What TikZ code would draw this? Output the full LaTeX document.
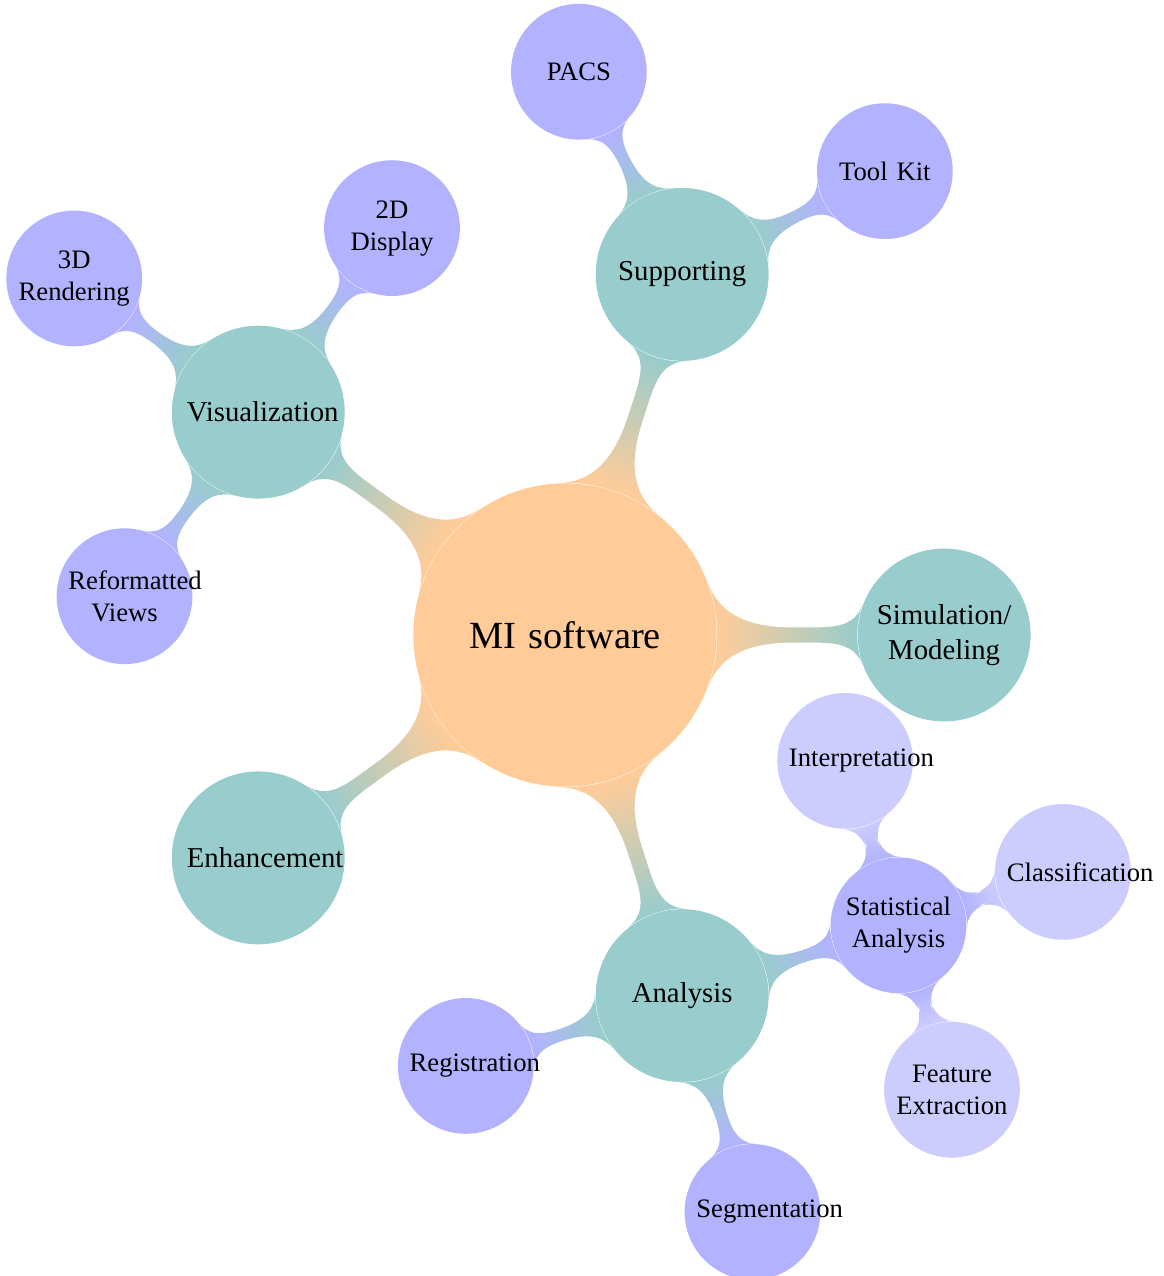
\documentclass[tikz,border=0pt]{standalone}
\usepackage{fontspec}
\setmainfont{Liberation Serif}
\usetikzlibrary{mindmap,backgrounds}
\colorlet{rootc}{orange!40}
\colorlet{lvlone}{teal!40}
\colorlet{lvltwo}{blue!30}
\colorlet{lvlthree}{blue!20}
\tikzset{
  basec/.style={circle, inner sep=0pt, align=center, text=black},
  rootnode/.style={basec, fill=rootc, minimum size=4cm, text width=3.5cm,
    font=\fontsize{14.4}{17}\selectfont},
  lonenode/.style={basec, fill=lvlone, minimum size=2.28cm, text width=1.885cm,
    font=\fontsize{10.8}{13.4}\selectfont},
  ltwonode/.style={basec, fill=lvltwo, minimum size=1.79cm, text width=1.48cm,
    font=\fontsize{10}{12}\selectfont},
  lthreenode/.style={basec, fill=lvlthree, minimum size=1.79cm, text width=1.48cm,
    font=\fontsize{10}{12}\selectfont},
  barone/.style={line width=6pt},
  bartwo/.style={line width=4.5pt},
}
\begin{document}
\hyphenpenalty=10000\relax
\begin{tikzpicture}
\useasboundingbox (-7.451,-8.453) rectangle (7.899,8.374);
% root
\node[rootnode] (root) at (0,0) {MI software};
% level 1
\node[lonenode] (sup) at (72:5) {Supporting};
\node[lonenode] (sim) at (0:5) {Simulation/\\Modeling};
\node[lonenode] (ana) at (-72:5) {Analysis};
\node[lonenode] (enh) at (216:5) {Enhancement};
\node[lonenode] (vis) at (144:5) {Visualization};
% level 2
\node[ltwonode] (pacs) at ([shift={(117:3)}]sup) {PACS};
\node[ltwonode] (tool) at ([shift={(27:3)}]sup) {Tool Kit};
\node[ltwonode] (twod) at ([shift={(54:3)}]vis) {2D\\Display};
\node[ltwonode] (threed) at ([shift={(144:3)}]vis) {3D\\Rendering};
\node[ltwonode] (refv) at ([shift={(234:3)}]vis) {Reformatted\\Views};
\node[ltwonode] (stat) at ([shift={(18:3)}]ana) {Statistical\\Analysis};
\node[ltwonode] (seg) at ([shift={(-72:3)}]ana) {Segmentation};
\node[ltwonode] (reg) at ([shift={(198:3)}]ana) {Registration};
% level 3
\node[lthreenode] (interp) at ([shift={(108:2.28)}]stat) {Interpretation};
\node[lthreenode] (class) at ([shift={(18:2.28)}]stat) {Classification};
\node[lthreenode] (feat) at ([shift={(-72:2.28)}]stat) {Feature\\Extraction};
% connectors (behind the concepts)
\begin{pgfonlayer}{background}
\path[barone] (root) to[circle connection bar switch color=from (rootc) to (lvlone)] (sup);
\path[barone] (root) to[circle connection bar switch color=from (rootc) to (lvlone)] (sim);
\path[barone] (root) to[circle connection bar switch color=from (rootc) to (lvlone)] (ana);
\path[barone] (root) to[circle connection bar switch color=from (rootc) to (lvlone)] (enh);
\path[barone] (root) to[circle connection bar switch color=from (rootc) to (lvlone)] (vis);
\path[bartwo] (sup) to[circle connection bar switch color=from (lvlone) to (lvltwo)] (pacs);
\path[bartwo] (sup) to[circle connection bar switch color=from (lvlone) to (lvltwo)] (tool);
\path[bartwo] (vis) to[circle connection bar switch color=from (lvlone) to (lvltwo)] (twod);
\path[bartwo] (vis) to[circle connection bar switch color=from (lvlone) to (lvltwo)] (threed);
\path[bartwo] (vis) to[circle connection bar switch color=from (lvlone) to (lvltwo)] (refv);
\path[bartwo] (ana) to[circle connection bar switch color=from (lvlone) to (lvltwo)] (stat);
\path[bartwo] (ana) to[circle connection bar switch color=from (lvlone) to (lvltwo)] (seg);
\path[bartwo] (ana) to[circle connection bar switch color=from (lvlone) to (lvltwo)] (reg);
\path[bartwo] (stat) to[circle connection bar switch color=from (lvltwo) to (lvlthree)] (interp);
\path[bartwo] (stat) to[circle connection bar switch color=from (lvltwo) to (lvlthree)] (class);
\path[bartwo] (stat) to[circle connection bar switch color=from (lvltwo) to (lvlthree)] (feat);
\end{pgfonlayer}
\end{tikzpicture}
\end{document}
